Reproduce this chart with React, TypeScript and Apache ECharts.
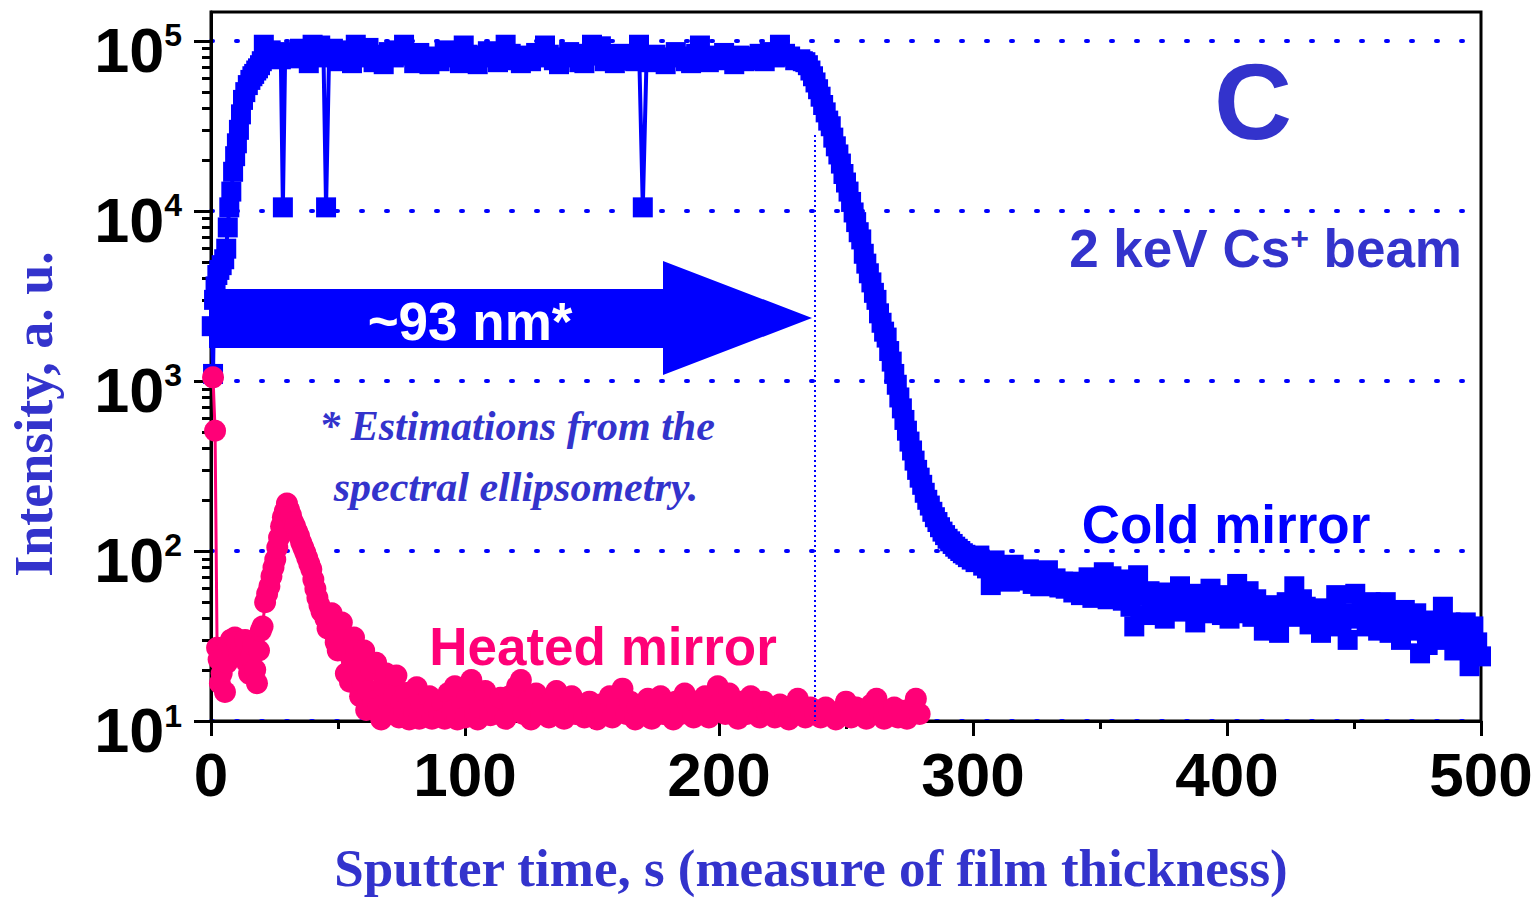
import React, { useEffect, useRef } from "react";
import * as echarts from "echarts";

// ---------- data ----------
const xTickStep = 100;
const xMin = 0;
const xMax = 500;
const yDecadeExponents = [1, 2, 3, 4, 5];
const yMinorValues = [
  20, 30, 40, 50, 60, 70, 80, 90,
  200, 300, 400, 500, 600, 700, 800, 900,
  2000, 3000, 4000, 5000, 6000, 7000, 8000, 9000,
  20000, 30000, 40000, 50000, 60000, 70000, 80000, 90000,
];
const yMinValue = 10;
const yMaxValue = 148000;

// Cold mirror: [sputter time s, intensity a.u.]
const coldMirror: [number, number][] = [
  [0.3, 2100], [0.8, 1100], [1.2, 3000], [1.8, 3600], [2.5, 4200], [3.3, 4500], [4.2, 4800],
  [5.2, 5200], [6.0, 6000], [6.6, 8000], [7.2, 10500], [8.0, 13000], [8.7, 17000], [9.5, 21000],
  [10.2, 25000], [11.0, 30000], [11.8, 37000], [12.6, 45000], [13.5, 50000], [14.5, 55000],
  [15.5, 59000], [16.3, 62000], [17, 64000], [17.8, 67000], [18.5, 69000], [19.3, 72000], [20, 76000],
  [20.8, 95000], [22, 82000], [23.5, 88000],
  [25, 84000], [26.5, 80000], [27.5, 78000], [28.3, 10500], [29.2, 83000], [31, 86000], [33, 79000],
  [35, 90000], [37, 82000], [38.5, 74000], [40, 95000], [41.5, 85000], [43, 94000], [44.3, 80000],
  [45.3, 10500], [46.5, 84000], [48, 90000], [50, 76000], [52, 82000], [54, 88000], [55.5, 74000],
  [57, 95000], [58.5, 84000], [60, 80000], [62, 91000], [64, 75000], [66, 83000], [68, 73000],
  [70, 86000], [72, 80000], [74, 88000], [76, 95000], [78, 82000], [80, 74000], [82, 85000],
  [84, 80000], [86, 73000], [88, 81000], [90, 76000], [92, 88000], [94, 84000], [96, 80000],
  [98, 74000], [99.5, 94000], [101, 83000], [103, 77000], [105, 73000], [107, 82000], [109, 87000],
  [111, 80000], [113, 75000], [116, 95000], [118, 84000], [120, 77000], [122, 74000], [124, 82000],
  [126, 76000], [128, 85000], [130, 80000], [131.5, 94000], [133, 83000], [135, 77000], [137, 73000],
  [139, 80000], [141, 86000], [143, 81000], [145, 75000], [147, 74000], [148.5, 84000], [150, 95000],
  [152, 82000], [153.5, 93000], [155, 76000], [157, 80000], [159, 74000], [161, 84000], [163, 77000],
  [165, 82000], [167, 76000], [168.5, 95000], [170, 10500], [171.5, 80000], [173, 75000], [175, 83000],
  [177, 79000], [179, 73000], [181, 80000], [183, 86000], [185, 81000], [187, 76000], [189, 74000],
  [191, 84000], [192.5, 94000], [194, 80000], [196, 75000], [198, 82000], [200, 77000], [202, 85000],
  [204, 80000], [206, 73000], [208, 82000], [210, 76000], [212, 81000], [214, 77000], [216, 84000],
  [218, 76000], [220, 86000], [222, 80000], [224, 95000], [226, 84000], [228, 81000], [230, 77000],
  [232, 78000], [233, 76000], [234, 75000], [235, 72000], [236, 67000], [237, 62000], [238, 57000],
  [239, 52000], [240, 47000], [241, 42000], [242, 38000], [243, 34000], [244, 31500], [245, 27000],
  [246, 24000], [247, 21500], [248, 19000], [249, 16500], [250, 14700], [251, 13000], [252, 11300],
  [253, 9800], [254, 8600], [255, 7500], [256, 6800], [257, 5600], [258, 4900], [259, 4300],
  [260, 3800], [261, 3300], [262, 3000], [263, 2500], [264, 2200], [265, 1950], [266, 1800],
  [267, 1500], [268, 1300], [269, 1100], [270, 950], [271, 800], [272, 690], [273, 590], [274, 510],
  [275, 440], [276, 390], [277, 340], [278, 300], [279, 270], [280, 245], [281, 220], [282, 200],
  [283, 185], [284, 170], [285, 158], [286, 148], [287, 138], [288, 130], [289, 124], [290, 118],
  [291, 114], [292, 110], [293, 106], [294, 103], [295, 100], [296, 97], [297, 95],
  [298, 92], [299.5, 89], [301, 86], [302.5, 94], [304, 82], [305.5, 79], [307, 63], [308.5, 88],
  [310, 76], [311.5, 72], [313, 80], [314.5, 66], [316, 83], [317.5, 70], [319, 75], [320.5, 67],
  [322, 78], [323.5, 64], [325, 73], [326.5, 62], [328, 70], [329.5, 77], [331, 63], [332.5, 69],
  [334, 61], [335.5, 66], [336.5, 60], [338, 66], [339.5, 57], [341, 62], [342.5, 55], [344, 64],
  [345.5, 70], [347, 53], [348.5, 61], [350, 57], [351.5, 75], [353, 52], [354.5, 71], [356, 56],
  [357.5, 68], [359, 51], [360.5, 58], [362, 47], [363.5, 36], [365, 72], [366.5, 55], [368, 42],
  [369.5, 58], [371, 48], [372.5, 54], [374, 57], [375.5, 40], [377, 52], [378.5, 45], [380, 54],
  [381.5, 62], [383, 44], [384.5, 51], [386, 56], [387.5, 38], [389, 50], [390.5, 43], [392, 48],
  [393.5, 60], [395, 45], [396.5, 49], [398, 42], [399.5, 55], [401, 40], [402.5, 50], [404, 64],
  [405.5, 46], [407, 43], [408.5, 58], [410, 41], [411.5, 52], [413, 45], [414.5, 34], [416, 47],
  [417.5, 42], [419, 48], [420.5, 33], [422, 44], [423.5, 50], [425, 41], [426.5, 62], [428, 45],
  [429.5, 52], [431, 47], [432.5, 37], [434, 43], [435.5, 46], [437, 33], [438.5, 44], [440, 36],
  [441.5, 42], [443, 55], [444.5, 38], [446, 43], [447.5, 30], [449, 41], [450.5, 56], [452, 40],
  [453.5, 44], [455, 36], [456.5, 50], [458, 45], [459.5, 34], [461, 40], [462.5, 50], [464, 33],
  [465.5, 38], [467, 42], [468.5, 30], [470, 45], [471.5, 41], [473, 34], [474.5, 43], [476, 25],
  [477.5, 37], [479, 28], [480.5, 39], [482, 30], [483.5, 36], [485, 47], [486.5, 33], [488, 38],
  [489.5, 26], [491, 35], [492.5, 27], [494, 38], [495.5, 21], [497, 36], [498.5, 29], [500, 24],
];

// Heated mirror: [sputter time s, intensity a.u.]
const heatedMirror: [number, number][] = [
  [0.8, 1050], [1.6, 510], [2.4, 27], [3.0, 23], [3.5, 16.7], [4.2, 19], [5.0, 25], [5.5, 14.8],
  [6.3, 22], [7.0, 28], [7.8, 30], [8.6, 26], [9.4, 31], [10.2, 29], [11.0, 25], [11.8, 27],
  [12.6, 26], [13.4, 30], [14.2, 22], [15.0, 19], [15.8, 24], [16.6, 28], [17.4, 20], [18.1, 16.7],
  [18.9, 26], [19.6, 34], [20.3, 36], [21.3, 50], [22.1, 56], [23.0, 62], [23.8, 71], [24.6, 80],
  [25.3, 89], [26.1, 105], [26.8, 120], [27.6, 140], [28.3, 158], [29.1, 172], [29.9, 190],
  [30.7, 175], [31.5, 162], [32.3, 148], [33.1, 140], [33.9, 130], [34.7, 122], [35.5, 112],
  [36.3, 105], [37.1, 98], [37.9, 91], [38.7, 84], [39.5, 78], [40.3, 68], [41.1, 60], [41.9, 53],
  [42.7, 48], [43.5, 44], [44.3, 43], [45.1, 40], [45.9, 35], [46.7, 38], [47.5, 43], [48.3, 33],
  [49.1, 29], [49.9, 26], [50.7, 31], [51.5, 38], [52.3, 30], [53.1, 19], [53.9, 25], [54.7, 17],
  [55.5, 22], [56.3, 31], [57.1, 26], [57.9, 20], [58.7, 14], [59.5, 17], [60.3, 26], [61.1, 11.6],
  [62, 15], [63, 20], [64, 13], [65, 22], [66, 12], [67, 10.2], [68, 16], [69, 19], [70, 12.7],
  [71, 11], [72, 14], [73, 18.5], [74, 10.5], [75, 13], [76, 11.5], [77, 14.6], [78, 10.2],
  [79, 12], [80, 11.3], [81, 15.8], [82, 10.3], [83, 12.5], [85, 11], [86, 14], [87, 10.3], [88, 12],
  [90, 11], [91, 13], [92, 10.3], [93.5, 14.6], [95, 11.5], [96, 16], [97, 10.2], [99, 12.4],
  [100, 10.5], [101, 13.7], [102.5, 17.4], [104, 11], [105, 10.2], [106, 12], [108, 15], [110, 10.8],
  [111.5, 13], [113, 11.5], [114, 13.7], [116, 10.3], [117.5, 14], [119, 12], [120.5, 16],
  [122, 17.4], [123, 11], [125, 13], [126, 10.2], [128, 14.5], [130, 11], [131, 12.5], [133, 10.5],
  [134, 13], [136, 15], [137, 11.5], [139, 10.3], [140, 12.5], [142, 14], [143.5, 11], [145, 12],
  [147, 10.5], [149, 13], [150, 11.5], [152, 10.2], [153.5, 12.5], [155, 11], [157, 14], [158, 10.5],
  [160, 12], [162, 15.5], [163.5, 11], [165, 13], [167, 10.2], [168, 12], [170, 11], [172, 13.5],
  [173.5, 10.3], [175, 12.5], [177, 14], [178, 11], [180, 12.5], [182, 10.2], [183, 13], [185, 11],
  [186.5, 14.5], [188, 12], [190, 10.5], [191, 13], [193, 11.5], [194.5, 14], [196, 10.5], [198, 12],
  [199.5, 16], [201, 13], [202.5, 11], [204, 14.5], [206, 12], [207.5, 10.3], [209, 13], [211, 11],
  [212.5, 14], [214, 12], [216, 10.5], [217.5, 13], [219, 11], [220.5, 12], [222, 10.5], [224, 12.5],
  [226, 11], [227.5, 10.2], [229, 12], [231, 13.5], [232.5, 11], [234, 10.5], [236, 12], [238, 11],
  [240, 10.5], [242, 12], [244, 11], [246, 10.2], [248, 11.5], [250, 13], [252, 10.5], [254, 12],
  [256, 11], [258, 10.3], [260, 12.5], [262, 13.5], [263.5, 11], [265, 10.3], [267, 11.5], [269, 12],
  [270.5, 10.5], [272, 11.5], [274, 10.3], [276, 12], [277.5, 13.5], [279, 11],
];

// film-end marker
const filmEndTime = 237.8;
const filmMarkerTop = 28000;

// ---------- styling ----------
const BLUE = "#0000ff";
const TEXT_BLUE = "#3333cc";
const PINK = "#ff0077";
const SANS = "'Liberation Sans', Arial, sans-serif";
const SERIF = "'Liberation Serif', 'Times New Roman', serif";

const lg = (v: number) => Math.log10(v);

const centered = {
  align: "center",
  verticalAlign: "middle",
  textAlign: "center",
  textVerticalAlign: "middle",
};

export default function App() {
  const ref = useRef<HTMLDivElement>(null);

  useEffect(() => {
    if (!ref.current) return;
    const chart = echarts.init(ref.current, undefined, { renderer: "svg" });

    const yMin = lg(yMinValue);
    const yMax = lg(yMaxValue);

    const option: any = {
      animation: false,
      backgroundColor: "#ffffff",
      grid: {
        left: 211,
        right: 56,
        top: 12,
        bottom: 177,
        show: true,
        borderColor: "#000",
        borderWidth: 3,
        backgroundColor: "transparent",
      },
      xAxis: {
        type: "value",
        min: xMin,
        max: xMax,
        interval: xTickStep,
        axisLine: { show: true, onZero: false, lineStyle: { color: "#000", width: 3 } },
        axisTick: { show: true, length: 15, lineStyle: { color: "#000", width: 3 } },
        minorTick: { show: true, splitNumber: 2, length: 8, lineStyle: { color: "#000", width: 3 } },
        splitLine: { show: false },
        axisLabel: {
          color: "#000",
          fontFamily: SANS,
          fontWeight: "bold",
          fontSize: 62,
          lineHeight: 62,
          margin: 22,
        },
      },
      yAxis: [
        {
          type: "value",
          position: "left",
          min: yMin,
          max: yMax,
          interval: 1,
          axisLine: { show: true, onZero: false, lineStyle: { color: "#000", width: 3 } },
          axisTick: {
            show: true,
            length: 17,
            customValues: yDecadeExponents,
            lineStyle: { color: "#000", width: 3 },
          },
          splitLine: {
            show: true,
            lineStyle: { color: BLUE, width: 4, type: [2, 23], cap: "round" },
          },
          axisLabel: {
            customValues: yDecadeExponents,
            margin: 29,
            padding: [19, 0, 0, 0],
            formatter: (v: number) => `{b|10}{s|${Math.round(v)}}`,
            rich: {
              b: {
                fontFamily: SANS,
                fontWeight: "bold",
                fontSize: 63,
                lineHeight: 62,
                color: "#000",
                verticalAlign: "bottom",
              },
              s: {
                fontFamily: SANS,
                fontWeight: "bold",
                fontSize: 32,
                lineHeight: 8,
                color: "#000",
                verticalAlign: "top",
              },
            },
          },
        },
        {
          type: "value",
          position: "left",
          min: yMin,
          max: yMax,
          axisLine: { show: false },
          axisTick: {
            show: true,
            length: 9,
            customValues: yMinorValues.map(lg),
            lineStyle: { color: "#000", width: 3 },
          },
          axisLabel: { show: false },
          splitLine: { show: false },
        },
      ],
      series: [
        {
          name: "Cold mirror",
          type: "line",
          data: coldMirror.map(([t, v]) => [t, lg(v)]),
          symbol: "rect",
          symbolSize: 20,
          itemStyle: { color: BLUE },
          lineStyle: { color: BLUE, width: 4 },
          clip: true,
          z: 3,
          markLine: {
            silent: true,
            symbol: ["none", "none"],
            label: { show: false },
            lineStyle: { color: BLUE, width: 2, type: [2, 3] },
            data: [[{ coord: [filmEndTime, lg(filmMarkerTop)] }, { coord: [filmEndTime, yMin] }]],
          },
        },
        {
          name: "Heated mirror",
          type: "line",
          data: heatedMirror.map(([t, v]) => [t, lg(v)]),
          symbol: "circle",
          symbolSize: 22,
          itemStyle: { color: PINK },
          lineStyle: { color: PINK, width: 3 },
          clip: true,
          z: 4,
        },
      ],
      graphic: [
        {
          type: "polygon",
          z: 50,
          shape: {
            points: [
              [209, 289], [663, 289], [663, 261], [812, 318], [663, 375], [663, 348], [209, 348],
            ],
          },
          style: { fill: BLUE },
        },
        {
          type: "text",
          z: 60,
          x: 470,
          y: 321,
          style: {
            text: "~93 nm*",
            fill: "#ffffff",
            fontFamily: SANS,
            fontWeight: "bold",
            fontSize: 53,
            ...centered,
          },
        },
        {
          type: "text",
          z: 60,
          x: 517,
          y: 426,
          style: {
            text: "* Estimations from the",
            fill: TEXT_BLUE,
            fontFamily: SERIF,
            fontWeight: "bold",
            fontStyle: "italic",
            fontSize: 42,
            ...centered,
          },
        },
        {
          type: "text",
          z: 60,
          x: 516,
          y: 487,
          style: {
            text: "spectral ellipsometry.",
            fill: TEXT_BLUE,
            fontFamily: SERIF,
            fontWeight: "bold",
            fontStyle: "italic",
            fontSize: 42,
            ...centered,
          },
        },
        {
          type: "text",
          z: 60,
          x: 1253,
          y: 101,
          style: {
            text: "C",
            fill: TEXT_BLUE,
            fontFamily: SANS,
            fontWeight: "bold",
            fontSize: 108,
            ...centered,
          },
        },
        {
          type: "text",
          z: 60,
          x: 1462,
          y: 248,
          style: {
            text: "2 keV Cs{s|+} beam",
            fill: TEXT_BLUE,
            fontFamily: SANS,
            fontWeight: "bold",
            fontSize: 53,
            align: "right",
            verticalAlign: "middle",
            textAlign: "right",
            textVerticalAlign: "middle",
            rich: {
              s: {
                fill: TEXT_BLUE,
                fontFamily: SANS,
                fontWeight: "bold",
                fontSize: 32,
                lineHeight: 38,
                verticalAlign: "top",
              },
            },
          },
        },
        {
          type: "text",
          z: 60,
          x: 1226,
          y: 524,
          style: {
            text: "Cold mirror",
            fill: BLUE,
            fontFamily: SANS,
            fontWeight: "bold",
            fontSize: 53,
            ...centered,
          },
        },
        {
          type: "text",
          z: 60,
          x: 603,
          y: 646,
          style: {
            text: "Heated mirror",
            fill: PINK,
            fontFamily: SANS,
            fontWeight: "bold",
            fontSize: 53,
            ...centered,
          },
        },
        {
          type: "text",
          z: 60,
          x: 34,
          y: 414,
          rotation: Math.PI / 2,
          style: {
            text: "Intensity, a. u.",
            fill: TEXT_BLUE,
            fontFamily: SERIF,
            fontWeight: "bold",
            fontSize: 54,
            lineHeight: 54,
            ...centered,
          },
        },
        {
          type: "text",
          z: 60,
          x: 811,
          y: 868,
          style: {
            text: "Sputter time, s (measure of film thickness)",
            fill: TEXT_BLUE,
            fontFamily: SERIF,
            fontWeight: "bold",
            fontSize: 53,
            lineHeight: 53,
            ...centered,
          },
        },
      ],
    };

    chart.setOption(option);
    return () => chart.dispose();
  }, []);

  return (
    <div
      ref={ref}
      style={{ position: "fixed", left: 0, top: 0, width: 1537, height: 898, background: "#fff" }}
    />
  );
}
